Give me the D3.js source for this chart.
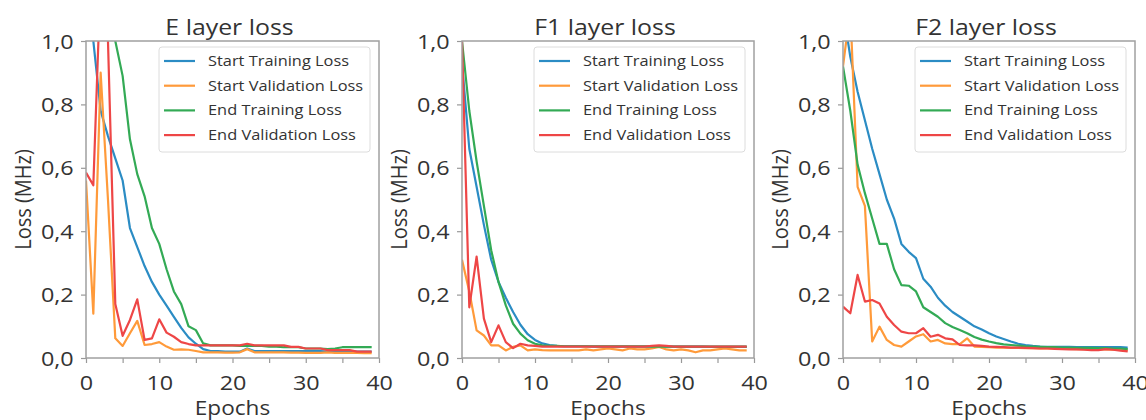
<!DOCTYPE html>
<html>
<head>
<meta charset="utf-8">
<script src="https://cdn.jsdelivr.net/npm/d3@7"></script>
<style>
  body { margin: 0; background: #fff; }
  text { font-family: "Open Sans", "Noto Sans", sans-serif; fill: #333; }
</style>
</head>
<body>
<svg id="chart" width="1146" height="420"></svg>
<script>
// Données (une valeur par epoch, 0..39)
var epochs = d3.range(40);
var seriesNames = ["Start Training Loss", "Start Validation Loss", "End Training Loss", "End Validation Loss"];
var seriesColors = ["#2b8cc4", "#ff9a3a", "#33aa55", "#ee4646"];
var panelTitles = ["E layer loss", "F1 layer loss", "F2 layer loss"];
var xTicks = [0, 10, 20, 30, 40];
var yTicks = [0, 0.2, 0.4, 0.6, 0.8, 1.0];

// E layer
var eStartTrain = [1.25, 1.0, 0.78, 0.70, 0.63, 0.56, 0.41, 0.35, 0.29, 0.24, 0.20, 0.165, 0.13, 0.095, 0.065, 0.045, 0.028, 0.022, 0.022, 0.02, 0.02, 0.02, 0.03, 0.022, 0.022, 0.022, 0.022, 0.022, 0.022, 0.022, 0.022, 0.022, 0.022, 0.02, 0.022, 0.022, 0.022, 0.02, 0.02, 0.02];
var eStartVal = [0.56, 0.14, 0.90, 0.50, 0.062, 0.038, 0.078, 0.117, 0.041, 0.044, 0.05, 0.036, 0.026, 0.027, 0.026, 0.022, 0.018, 0.018, 0.018, 0.017, 0.017, 0.018, 0.028, 0.018, 0.018, 0.018, 0.018, 0.018, 0.017, 0.017, 0.016, 0.016, 0.016, 0.018, 0.016, 0.016, 0.016, 0.016, 0.015, 0.015];
var eEndTrain = [1.6, 1.45, 1.3, 1.12, 1.0, 0.89, 0.69, 0.58, 0.51, 0.41, 0.36, 0.28, 0.21, 0.17, 0.10, 0.088, 0.046, 0.04, 0.04, 0.04, 0.04, 0.038, 0.038, 0.038, 0.038, 0.036, 0.036, 0.034, 0.034, 0.034, 0.03, 0.03, 0.03, 0.028, 0.03, 0.034, 0.034, 0.034, 0.034, 0.034];
var eEndVal = [0.585, 0.545, 1.2, 1.0, 0.17, 0.07, 0.12, 0.185, 0.057, 0.062, 0.122, 0.08, 0.067, 0.05, 0.044, 0.04, 0.04, 0.04, 0.04, 0.04, 0.04, 0.04, 0.045, 0.04, 0.04, 0.04, 0.04, 0.04, 0.035, 0.035, 0.03, 0.03, 0.03, 0.025, 0.025, 0.025, 0.025, 0.02, 0.02, 0.02];

// F1 layer
var f1StartTrain = [0.93, 0.66, 0.54, 0.42, 0.31, 0.24, 0.19, 0.145, 0.105, 0.075, 0.057, 0.046, 0.041, 0.038, 0.037, 0.037, 0.037, 0.037, 0.036, 0.036, 0.036, 0.036, 0.036, 0.036, 0.036, 0.036, 0.036, 0.036, 0.036, 0.036, 0.036, 0.036, 0.036, 0.036, 0.035, 0.035, 0.035, 0.035, 0.035, 0.035];
var f1StartVal = [0.31, 0.21, 0.087, 0.071, 0.04, 0.04, 0.024, 0.035, 0.04, 0.024, 0.027, 0.025, 0.024, 0.024, 0.024, 0.024, 0.024, 0.027, 0.024, 0.027, 0.03, 0.027, 0.024, 0.03, 0.027, 0.027, 0.03, 0.035, 0.027, 0.024, 0.027, 0.024, 0.018, 0.024, 0.024, 0.027, 0.03, 0.027, 0.024, 0.024];
var f1EndTrain = [1.0, 0.78, 0.62, 0.48, 0.34, 0.24, 0.166, 0.108, 0.077, 0.056, 0.045, 0.04, 0.038, 0.038, 0.037, 0.037, 0.037, 0.037, 0.037, 0.037, 0.037, 0.037, 0.037, 0.037, 0.037, 0.037, 0.036, 0.036, 0.036, 0.036, 0.036, 0.036, 0.036, 0.036, 0.036, 0.036, 0.036, 0.036, 0.036, 0.036];
var f1EndVal = [1.0, 0.16, 0.32, 0.124, 0.05, 0.103, 0.05, 0.031, 0.045, 0.04, 0.038, 0.036, 0.036, 0.036, 0.036, 0.036, 0.036, 0.036, 0.036, 0.036, 0.036, 0.036, 0.036, 0.036, 0.036, 0.036, 0.038, 0.04, 0.038, 0.036, 0.036, 0.036, 0.036, 0.036, 0.036, 0.036, 0.036, 0.036, 0.036, 0.036];

// F2 layer
var f2StartTrain = [1.1, 0.95, 0.84, 0.75, 0.66, 0.58, 0.50, 0.44, 0.36, 0.335, 0.315, 0.25, 0.225, 0.19, 0.165, 0.145, 0.13, 0.115, 0.10, 0.09, 0.078, 0.068, 0.06, 0.052, 0.045, 0.041, 0.038, 0.036, 0.035, 0.035, 0.035, 0.035, 0.034, 0.034, 0.034, 0.034, 0.034, 0.034, 0.034, 0.033];
var f2StartVal = [0.92, 1.1, 0.54, 0.48, 0.052, 0.099, 0.057, 0.041, 0.036, 0.052, 0.068, 0.075, 0.052, 0.057, 0.046, 0.044, 0.044, 0.062, 0.036, 0.035, 0.034, 0.033, 0.033, 0.032, 0.032, 0.031, 0.031, 0.03, 0.03, 0.03, 0.029, 0.029, 0.028, 0.028, 0.028, 0.027, 0.027, 0.026, 0.026, 0.025];
var f2EndTrain = [0.92, 0.78, 0.61, 0.52, 0.44, 0.36, 0.36, 0.28, 0.23, 0.228, 0.21, 0.16, 0.145, 0.13, 0.11, 0.098, 0.088, 0.078, 0.066, 0.058, 0.052, 0.047, 0.043, 0.041, 0.039, 0.037, 0.036, 0.035, 0.034, 0.034, 0.033, 0.033, 0.032, 0.032, 0.032, 0.031, 0.031, 0.03, 0.03, 0.028];
var f2EndVal = [0.162, 0.141, 0.262, 0.178, 0.183, 0.172, 0.13, 0.104, 0.083, 0.078, 0.078, 0.094, 0.067, 0.073, 0.062, 0.059, 0.041, 0.04, 0.04, 0.038, 0.036, 0.035, 0.034, 0.033, 0.033, 0.032, 0.031, 0.03, 0.03, 0.029, 0.028, 0.027, 0.027, 0.026, 0.025, 0.025, 0.028, 0.026, 0.023, 0.021];

var panelData = [
  [eStartTrain, eStartVal, eEndTrain, eEndVal],
  [f1StartTrain, f1StartVal, f1EndTrain, f1EndVal],
  [f2StartTrain, f2StartVal, f2EndTrain, f2EndVal]
];

// emprise de chaque graphique (pixels)
var panels = [
  { left: 86, right: 379, top: 41, bottom: 358 },
  { left: 462, right: 754, top: 41, bottom: 358 },
  { left: 843, right: 1135, top: 41, bottom: 358 }
];

// la figure d'origine est un peu étirée en largeur
var stretch = 1.13;

var svg = d3.select("#chart");
var fmt = function(d) { return d3.format(".1f")(d).replace(".", ","); };

// texte étiré horizontalement autour de son point d'ancrage
function addText(parent, x, y, txt, size, rotate) {
  var tr = "translate(" + x + "," + y + ")" + (rotate ? " rotate(-90) scale(1," + stretch + ")" : " scale(" + stretch + ",1)");
  return parent.append("text").attr("transform", tr)
    .attr("text-anchor", "middle").style("font-size", size + "px").text(txt);
}

panels.forEach(function(p, i) {
  var x = d3.scaleLinear().domain([0, 40]).range([p.left, p.right]);
  var y = d3.scaleLinear().domain([0, 1]).range([p.bottom, p.top]);
  var g = svg.append("g");

  g.append("clipPath").attr("id", "clip" + i)
    .append("rect")
    .attr("x", p.left).attr("y", p.top)
    .attr("width", p.right - p.left).attr("height", p.bottom - p.top);

  // axes
  var xAxis = g.append("g").attr("transform", "translate(0," + p.bottom + ")")
    .call(d3.axisBottom(x).tickValues(d3.range(0, 41, 5)).tickSize(5).tickFormat(function(d) { return xTicks.indexOf(d) >= 0 ? d : ""; }));
  var yAxis = g.append("g").attr("transform", "translate(" + p.left + ",0)")
    .call(d3.axisLeft(y).tickValues(yTicks).tickSize(5).tickFormat(fmt));
  [xAxis, yAxis].forEach(function(a) {
    a.select(".domain").remove();
    a.selectAll(".tick line").attr("stroke", "#999").attr("stroke-width", 1.2);
    a.selectAll("text").style("font-size", "20px").attr("fill", "#333")
      .attr("transform", "scale(1.17,1)");
  });
  xAxis.selectAll("text").attr("dy", "1.2em");
  yAxis.selectAll("text").attr("x", -10.5).attr("dy", "0.35em");

  // courbes
  var line = d3.line()
    .x(function(d, k) { return x(epochs[k]); })
    .y(function(d) { return y(d); });
  g.append("g").attr("clip-path", "url(#clip" + i + ")")
    .selectAll("path").data(panelData[i]).enter().append("path")
    .attr("d", line)
    .attr("fill", "none")
    .attr("stroke", function(d, k) { return seriesColors[k]; })
    .attr("stroke-width", 2.2)
    .attr("stroke-linejoin", "round");

  // cadre
  g.append("rect")
    .attr("x", p.left).attr("y", p.top)
    .attr("width", p.right - p.left).attr("height", p.bottom - p.top)
    .attr("fill", "none").attr("stroke", "#a0a0a0").attr("stroke-width", 1.5);

  // titres
  var cx = (p.left + p.right) / 2;
  addText(g, cx - 3, p.top - 6, panelTitles[i], 22);
  addText(g, cx, 415, "Epochs", 20);
  addText(g, p.left - 63, (p.top + p.bottom) / 2, "Loss (MHz)", 20, true).attr("dy", "0.35em");

  // légende
  var lx = p.right - 220, ly = p.top + 6;
  var leg = g.append("g").attr("transform", "translate(" + lx + "," + ly + ")");
  leg.append("rect").attr("width", 211).attr("height", 105).attr("rx", 3)
    .attr("fill", "#fff").attr("fill-opacity", 0.85)
    .attr("stroke", "#dcdcdc").attr("stroke-width", 1);
  seriesNames.forEach(function(name, k) {
    var yy = 14 + k * 24.7;
    leg.append("line").attr("x1", 5).attr("x2", 36).attr("y1", yy).attr("y2", yy)
      .attr("stroke", seriesColors[k]).attr("stroke-width", 2.2);
    leg.append("text").attr("transform", "translate(49," + yy + ") scale(" + stretch + ",1)")
      .attr("dy", "0.35em").style("font-size", "14.5px").text(name);
  });
});
</script>
</body>
</html>
